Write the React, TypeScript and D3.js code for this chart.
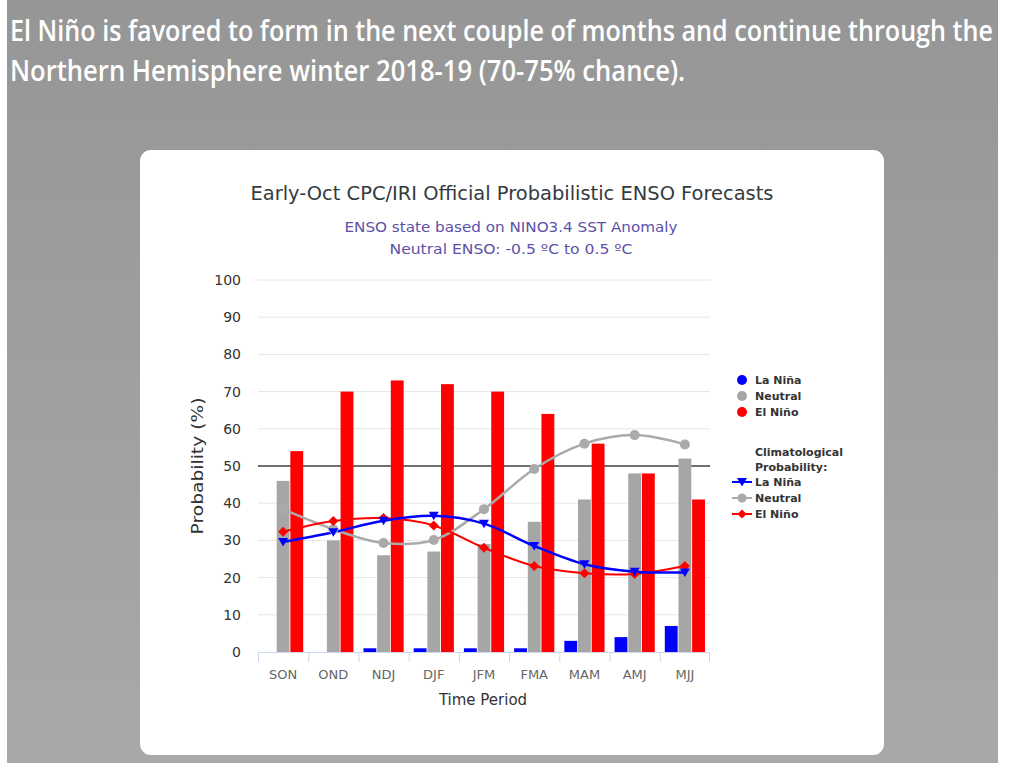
import React from 'react';
import * as d3 from 'd3';

// ENSO forecast, early October 2018
const periods = ['SON', 'OND', 'NDJ', 'DJF', 'JFM', 'FMA', 'MAM', 'AMJ', 'MJJ'];
const laNina = [0, 0, 1, 1, 1, 1, 3, 4, 7];
const neutral = [46, 30, 26, 27, 29, 35, 41, 48, 52];
const elNino = [54, 70, 73, 72, 70, 64, 56, 48, 41];

const climLaNina = [29.6, 32.2, 35.3, 36.6, 34.5, 28.5, 23.6, 21.6, 21.4];
const climNeutral = [38.4, 33, 29.3, 30.1, 38.4, 49.2, 56, 58.3, 55.8];
const climElNino = [32.3, 35.2, 36, 34, 28, 23.1, 21.2, 21, 23.1];

const yTicks = [0, 10, 20, 30, 40, 50, 60, 70, 80, 90, 100];

const BLUE = '#0000ff';
const GRAY = '#a6a6a6';
const RED = '#ff0000';
const FONT = '"DejaVu Sans", Verdana, sans-serif';
const HEAD_FONT = '"Open Sans", sans-serif';

const W = 1013;
const H = 763;

export default function App() {
  const x = d3.scaleBand<string>().domain(periods).range([258, 710]);
  const inner = d3
    .scaleBand<string>()
    .domain(['laNina', 'neutral', 'elNino'])
    .range([x.bandwidth() * 0.1, x.bandwidth() * 0.9])
    .paddingInner(0.06);
  const y = d3.scaleLinear().domain([0, 100]).range([652, 280]);

  const line = d3
    .line<number>()
    .x((_, i) => (x(periods[i]) as number) + x.bandwidth() / 2)
    .y((d) => y(d))
    .curve(d3.curveCatmullRom.alpha(0.5));

  const cx = (i: number) => (x(periods[i]) as number) + x.bandwidth() / 2;

  const barSeries = [
    { key: 'laNina', values: laNina, color: BLUE },
    { key: 'neutral', values: neutral, color: GRAY },
    { key: 'elNino', values: elNino, color: RED },
  ];

  const triangle = (px: number, py: number, s: number) =>
    `M${px - s},${py - s * 0.8}L${px + s},${py - s * 0.8}L${px},${py + s * 0.9}Z`;
  const diamond = (px: number, py: number, s: number) =>
    `M${px},${py - s}L${px + s},${py}L${px},${py + s}L${px - s},${py}Z`;

  const legendX = 742;

  return (
    <svg
      width={W}
      height={H}
      style={{ position: 'absolute', left: 0, top: 0 }}
      fontFamily={FONT}
    >
      <defs>
        <linearGradient id="bg" x1="0" y1="0" x2="0" y2="1">
          <stop offset="0%" stopColor="#969696" />
          <stop offset="100%" stopColor="#a9a9a9" />
        </linearGradient>
      </defs>
      <rect x={0} y={0} width={W} height={H} fill="#ffffff" />
      <rect x={7} y={0} width={991} height={H} fill="url(#bg)" />

      {/* headline, narrow and tall like the original */}
      <g transform="translate(10,41) scale(1,1.2)" fill="#ffffff" fontFamily={HEAD_FONT} fontWeight={600} fontSize={24.5}>
        <text x={0} y={0} textLength={983} lengthAdjust="spacingAndGlyphs">
          El Niño is favored to form in the next couple of months and continue through the
        </text>
        <text x={0} y={33.3} textLength={675} lengthAdjust="spacingAndGlyphs">
          Northern Hemisphere winter 2018-19 (70-75% chance).
        </text>
      </g>

      {/* chart card */}
      <rect x={140} y={150} width={744} height={605} rx={11} fill="#ffffff" />

      <text x={512} y={200} textAnchor="middle" fontSize={20} fill="#333a40" textLength={523} lengthAdjust="spacingAndGlyphs">
        Early-Oct CPC/IRI Official Probabilistic ENSO Forecasts
      </text>
      <text x={511} y={232} textAnchor="middle" fontSize={14} fill="#5b52a8" textLength={333} lengthAdjust="spacingAndGlyphs">
        ENSO state based on NINO3.4 SST Anomaly
      </text>
      <text x={511} y={254} textAnchor="middle" fontSize={14} fill="#5b52a8" textLength={243} lengthAdjust="spacingAndGlyphs">
        Neutral ENSO: -0.5 ºC to 0.5 ºC
      </text>

      {/* grid */}
      {yTicks.map((t) => (
        <g key={t}>
          {t !== 0 && (
            <line x1={258} x2={710} y1={y(t)} y2={y(t)} stroke="#e6e6e6" strokeWidth={1} />
          )}
          <text x={241} y={y(t) + 5} textAnchor="end" fontSize={14} fill="#333333">
            {t}
          </text>
        </g>
      ))}
      <line x1={258} x2={710} y1={y(50)} y2={y(50)} stroke="#707070" strokeWidth={2} />

      {/* bars */}
      {barSeries.map((s) =>
        s.values.map((v, i) =>
          v > 0 ? (
            <rect
              key={s.key + i}
              x={(x(periods[i]) as number) + (inner(s.key) as number)}
              y={y(v)}
              width={inner.bandwidth()}
              height={y(0) - y(v)}
              fill={s.color}
            />
          ) : null
        )
      )}

      {/* x axis */}
      <line x1={258} x2={710} y1={652.5} y2={652.5} stroke="#ccd6eb" strokeWidth={1} />
      {periods.map((p, i) => (
        <g key={p}>
          <line
            x1={(x(p) as number) + 0.5}
            x2={(x(p) as number) + 0.5}
            y1={652}
            y2={662}
            stroke="#ccd6eb"
          />
          <text x={cx(i)} y={679} textAnchor="middle" fontSize={13} fill="#666666">
            {p}
          </text>
        </g>
      ))}
      <line x1={709.5} x2={709.5} y1={652} y2={662} stroke="#ccd6eb" />

      <text x={483} y={705} textAnchor="middle" fontSize={15} fill="#333333">
        Time Period
      </text>
      <text
        transform={`translate(203,${y(50)}) rotate(-90)`}
        textAnchor="middle"
        fontSize={15}
        fill="#333333"
        textLength={137}
        lengthAdjust="spacingAndGlyphs"
      >
        Probability (%)
      </text>

      {/* climatological lines */}
      <path d={line(climNeutral) as string} fill="none" stroke="#aaaaaa" strokeWidth={2.5} />
      <path d={line(climElNino) as string} fill="none" stroke={RED} strokeWidth={2} />
      <path d={line(climLaNina) as string} fill="none" stroke={BLUE} strokeWidth={2.5} />
      {climNeutral.map((v, i) => (
        <circle key={'cn' + i} cx={cx(i)} cy={y(v)} r={5} fill="#aaaaaa" />
      ))}
      {climElNino.map((v, i) => (
        <path key={'ce' + i} d={diamond(cx(i), y(v), 5)} fill={RED} />
      ))}
      {climLaNina.map((v, i) => (
        <path key={'cl' + i} d={triangle(cx(i), y(v), 5)} fill={BLUE} />
      ))}

      {/* legend */}
      <g fontSize={11} fontWeight="bold" fill="#333333">
        <circle cx={legendX} cy={380} r={5} fill={BLUE} />
        <text x={755} y={384}>La Niña</text>
        <circle cx={legendX} cy={396} r={5} fill={GRAY} />
        <text x={755} y={400}>Neutral</text>
        <circle cx={legendX} cy={412} r={5} fill={RED} />
        <text x={755} y={416}>El Niño</text>

        <text x={755} y={456}>Climatological</text>
        <text x={755} y={471}>Probability:</text>

        <line x1={732} x2={752} y1={482} y2={482} stroke={BLUE} strokeWidth={2} />
        <path d={triangle(legendX, 482, 5)} fill={BLUE} />
        <text x={755} y={486}>La Niña</text>
        <line x1={732} x2={752} y1={498} y2={498} stroke="#aaaaaa" strokeWidth={2} />
        <circle cx={legendX} cy={498} r={4.5} fill="#aaaaaa" />
        <text x={755} y={502}>Neutral</text>
        <line x1={732} x2={752} y1={514} y2={514} stroke={RED} strokeWidth={2} />
        <path d={diamond(legendX, 514, 4.5)} fill={RED} />
        <text x={755} y={518}>El Niño</text>
      </g>
    </svg>
  );
}
